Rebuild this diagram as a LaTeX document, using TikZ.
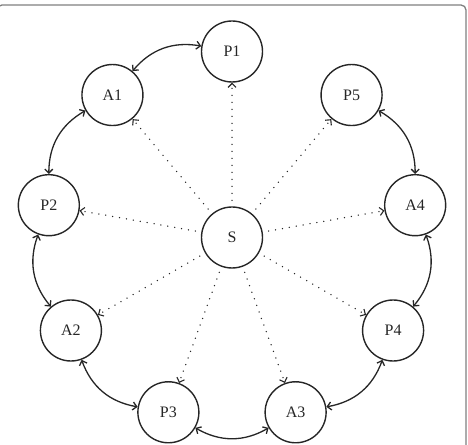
\documentclass[tikz,border=0pt]{standalone}
\usepackage{fontspec}
\setmainfont{Liberation Serif}
\usetikzlibrary{arrows.meta,calc,decorations.markings}
\definecolor{ink}{HTML}{262626}
\definecolor{framecol}{HTML}{808080}
\begin{document}
\begin{tikzpicture}[
  x=1pt,y=1pt,
  nd/.style={circle,draw=ink,line width=1.4pt,minimum size=61pt,inner sep=0pt,
    font=\fontsize{16}{18}\selectfont,text=ink},
  link/.style={draw=ink,line width=1.3pt,
    {Straight Barb[length=4pt,width=8pt]}-{Straight Barb[length=4pt,width=8pt]},bend left=30},
  ray/.style={draw=ink,line width=1.5pt,line cap=round,dash pattern=on 0pt off 7pt,
    shorten <=6pt,
    postaction={draw=none,decorate,decoration={markings,
      mark=at position 1 with {\pgfsetdash{}{0pt}\pgfsetlinewidth{1.1pt}%
        \arrow{Straight Barb[length=4pt,width=8pt]}}}}},
  framebox/.style={draw=framecol,line width=1.3pt,rounded corners=5pt}
]
\useasboundingbox (0,0) rectangle (468,444);
\clip (0,0) rectangle (468,444);
\draw[framebox] (-3,-20) rectangle (466,439);

\node[nd] (S) at (232,206.5) {S};
\foreach \n/\a in {P1/90,A1/130,P2/170,A2/210,P3/250,A3/290,P4/330,A4/10,P5/50}
  \node[nd] (\n) at ($(S.center)+(\a:186)$) {\n};

\foreach \n in {P1,A1,P2,A2,P3,A3,P4,A4,P5}
  \draw[ray] (S) -- (\n);

\draw[link] (A1) to (P1);
\draw[link] (P2) to (A1);
\draw[link] (A2) to (P2);
\draw[link] (P3) to (A2);
\draw[link] (A3) to (P3);
\draw[link] (P4) to (A3);
\draw[link] (A4) to (P4);
\draw[link] (P5) to (A4);
\end{tikzpicture}
\end{document}
